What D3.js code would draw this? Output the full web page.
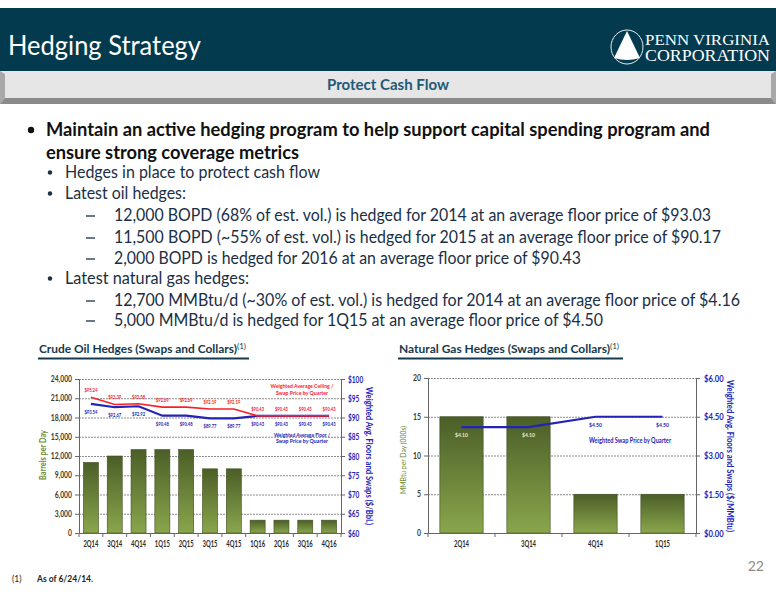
<!DOCTYPE html>
<html>
<head>
<meta charset="utf-8">
<script src="https://cdn.jsdelivr.net/npm/d3@7"></script>
<style>
body{margin:0;background:#fff;}
svg{display:block;}
text{font-family:Lato,"Open Sans",sans-serif;}
</style>
</head>
<body>
<svg id="chart" width="776" height="600"></svg>
<script>
// ---------- data ----------
const oilQuarters = ["2Q14","3Q14","4Q14","1Q15","2Q15","3Q15","4Q15","1Q16","2Q16","3Q16","4Q16"];
const oilVolumes = [11000,12000,13000,13000,13000,10000,10000,2000,2000,2000,2000];
const oilCeiling = [95.24,93.39,93.58,92.69,92.69,92.19,92.19,90.43,90.43,90.43,90.43];
const oilFloor = [93.54,92.67,92.92,90.48,90.48,89.77,89.77,90.43,90.43,90.43,90.43];
const oilVolumeTicks = [0,3000,6000,9000,12000,15000,18000,21000,24000];
const oilPriceTicks = [60,65,70,75,80,85,90,95,100];

const gasQuarters = ["2Q14","3Q14","4Q14","1Q15"];
const gasVolumes = [15,15,5,5];
const gasSwap = [4.10,4.10,4.50,4.50];
const gasVolumeTicks = [0,5,10,15,20];
const gasPriceTicks = [0,1.5,3,4.5,6];

const bodyLines = [
  {lvl:0, text:"Maintain an active hedging program to help support capital spending program and", bullet:true},
  {lvl:0, text:"ensure strong coverage metrics", bullet:false},
  {lvl:1, text:"Hedges in place to protect cash flow"},
  {lvl:1, text:"Latest oil hedges:"},
  {lvl:2, text:"12,000 BOPD (68% of est. vol.) is hedged for 2014 at an average floor price of $93.03"},
  {lvl:2, text:"11,500 BOPD (~55% of est. vol.) is hedged for 2015 at an average floor price of $90.17"},
  {lvl:2, text:"2,000 BOPD is hedged for 2016 at an average floor price of $90.43"},
  {lvl:1, text:"Latest natural gas hedges:"},
  {lvl:2, text:"12,700 MMBtu/d (~30% of est. vol.) is hedged for 2014 at an average floor price of $4.16"},
  {lvl:2, text:"5,000 MMBtu/d is hedged for 1Q15 at an average floor price of $4.50"}
];
const bodyLineY = [136,159,178,199,221,243,264,284,306,326];
const bodyLineEnd = [710,299,320,186,711,721,581,249,740,603];

// ---------- setup ----------
const svg = d3.select("#chart");
const BLUE = "#2323b5", RED = "#f5222a", OLIVE = "#6f8a35", TEAL = "#163a4c";

const defs = svg.append("defs");
const grad = defs.append("linearGradient").attr("id","barGrad").attr("x1",0).attr("y1",0).attr("x2",0).attr("y2",1);
grad.append("stop").attr("offset","0%").attr("stop-color","#4b5e27");
grad.append("stop").attr("offset","100%").attr("stop-color","#8aa64c");

// squeeze a text node to a width proportional to its character count
function squeeze(sel, perChar){
  sel.each(function(){
    const s = this.textContent;
    let w = 0;
    for(const ch of s){ w += (ch===","||ch===".") ? perChar*0.45 : perChar; }
    d3.select(this).attr("textLength",w).attr("lengthAdjust","spacingAndGlyphs");
  });
}

// ---------- header ----------
svg.append("rect").attr("x",0).attr("y",8).attr("width",776).attr("height",63).attr("fill","#033a4e");
svg.append("text").attr("x",8).attr("y",55).attr("fill","#fff").attr("font-size",27)
  .attr("textLength",193).attr("lengthAdjust","spacingAndGlyphs").text("Hedging Strategy");

// logo
const logo = svg.append("g");
logo.append("ellipse").attr("cx",627).attr("cy",47).attr("rx",16).attr("ry",17).attr("fill","none").attr("stroke","#e8eef0").attr("stroke-width",1);
logo.append("path").attr("d","M627,31 L640,58 Q627,62 614,58 Z").attr("fill","#fff");
logo.append("text").attr("x",645).attr("y",45).attr("fill","#fff").attr("font-size",15)
  .style("font-family","'Liberation Serif','DejaVu Serif',serif").attr("textLength",125).attr("lengthAdjust","spacingAndGlyphs").text("PENN VIRGINIA");
logo.append("text").attr("x",645).attr("y",61).attr("fill","#fff").attr("font-size",16)
  .style("font-family","'Liberation Serif','DejaVu Serif',serif").attr("textLength",125).attr("lengthAdjust","spacingAndGlyphs").text("CORPORATION");

// gray band
svg.append("rect").attr("x",0).attr("y",71).attr("width",776).attr("height",33).attr("fill","#e6e6e6");
svg.append("path").attr("d","M0,71 L5,74 L5,98 L0,104 Z").attr("fill","#a8a8a8");
svg.append("path").attr("d","M776,71 L771,74 L771,98 L776,104 Z").attr("fill","#a8a8a8");
svg.append("path").attr("d","M0,104 L5,98 L771,98 L776,104 Z").attr("fill","#8a8a8a");
svg.append("text").attr("x",388).attr("y",90).attr("text-anchor","middle").attr("fill","#1d5a78")
  .attr("font-size",15).attr("font-weight","bold").attr("textLength",122).attr("lengthAdjust","spacingAndGlyphs").text("Protect Cash Flow");

// ---------- body text ----------
bodyLines.forEach((d,i)=>{
  const y = bodyLineY[i];
  let tx;
  if(d.lvl===0){
    tx = 46;
    if(d.bullet) svg.append("circle").attr("cx",31).attr("cy",y-6).attr("r",3.2).attr("fill","#111");
    svg.append("text").attr("x",tx).attr("y",y).attr("fill","#111").attr("font-size",18.5).attr("font-weight","bold")
      .attr("textLength",bodyLineEnd[i]-tx).attr("lengthAdjust","spacingAndGlyphs").text(d.text);
  } else if(d.lvl===1){
    tx = 65;
    svg.append("circle").attr("cx",50).attr("cy",y-5.5).attr("r",2.2).attr("fill","#1a2f45");
    svg.append("text").attr("x",tx).attr("y",y).attr("fill","#1a2f45").attr("font-size",16.5)
      .attr("textLength",bodyLineEnd[i]-tx).attr("lengthAdjust","spacingAndGlyphs").text(d.text);
  } else {
    tx = 114;
    svg.append("line").attr("x1",86).attr("x2",95).attr("y1",y-5).attr("y2",y-5).attr("stroke","#1a2f45").attr("stroke-width",1.3);
    svg.append("text").attr("x",tx).attr("y",y).attr("fill","#1a2f45").attr("font-size",16.5)
      .attr("textLength",bodyLineEnd[i]-tx).attr("lengthAdjust","spacingAndGlyphs").text(d.text);
  }
});

// ---------- chart title helper ----------
function chartTitle(x, y, w, text, ulX1, ulX2){
  const t = svg.append("text").attr("x",x).attr("y",y).attr("fill",TEAL).attr("font-size",11.5).attr("font-weight","bold");
  t.append("tspan").attr("textLength",w).attr("lengthAdjust","spacingAndGlyphs").text(text);
  t.append("tspan").attr("dy",-4).attr("font-size",8).attr("font-weight","normal").text("(1)");
  svg.append("line").attr("x1",ulX1).attr("x2",ulX2).attr("y1",358.5).attr("y2",358.5).attr("stroke",TEAL).attr("stroke-width",2);
}
chartTitle(39,353,198,"Crude Oil Hedges (Swaps and Collars)",38,249);
chartTitle(399,353,211,"Natural Gas Hedges (Swaps and Collars)",398,623);

// ---------- generic dual-axis chart ----------
function drawChart(cfg){
  const g = svg.append("g");
  const x = d3.scaleBand().domain(cfg.cats).range([cfg.x0,cfg.x1]).paddingInner(cfg.padIn).paddingOuter(cfg.padIn/2);
  const y = d3.scaleLinear().domain(cfg.yDom).range([cfg.yB,cfg.yT]);
  const y2 = d3.scaleLinear().domain(cfg.y2Dom).range([cfg.yB,cfg.yT]);

  // gridlines
  g.append("g").selectAll("line").data(cfg.yTicks.filter(d=>d>cfg.yDom[0])).join("line")
    .attr("x1",cfg.x0).attr("x2",cfg.x1).attr("y1",d=>y(d)+0.5).attr("y2",d=>y(d)+0.5)
    .attr("stroke","#8c8c8c").attr("stroke-width",1).attr("stroke-dasharray","2,1");

  // bars
  g.append("g").selectAll("rect").data(cfg.vols).join("rect")
    .attr("x",(d,i)=>x(cfg.cats[i])).attr("width",x.bandwidth())
    .attr("y",d=>y(d)).attr("height",d=>y(cfg.yDom[0])-y(d))
    .attr("fill","url(#barGrad)").attr("stroke","#3d4d1f").attr("stroke-width",0.6);

  // axes
  const left = g.append("g").attr("transform",`translate(${cfg.x0},0)`)
    .call(d3.axisLeft(y).tickValues(cfg.yTicks).tickFormat(cfg.yFmt).tickSize(4).tickPadding(3));
  left.select(".domain").attr("stroke","#666");
  left.selectAll(".tick line").attr("stroke","#666");
  left.selectAll("text").attr("fill","#3c3c2e").attr("font-size",8.5).attr("font-weight","bold").style("font-family","Lato,sans-serif")
    .call(squeeze, cfg.yChar);

  const right = g.append("g").attr("transform",`translate(${cfg.x1},0)`)
    .call(d3.axisRight(y2).tickValues(cfg.y2Ticks).tickFormat(cfg.y2Fmt).tickSize(4).tickPadding(cfg.y2Pad));
  right.select(".domain").attr("stroke","#666");
  right.selectAll(".tick line").attr("stroke","#666");
  right.selectAll("text").attr("fill",BLUE).attr("font-size",9.5).attr("font-weight","bold").style("font-family","Lato,sans-serif")
    .call(squeeze, cfg.y2Char);

  const bottom = g.append("g").attr("transform",`translate(0,${cfg.yB})`)
    .call(d3.axisBottom(x).tickSize(0).tickPadding(cfg.xPad));
  bottom.select(".domain").attr("stroke","#666");
  bottom.selectAll("text").attr("fill","#2b2b2b").attr("font-size",8.5).attr("font-weight","bold").style("font-family","Lato,sans-serif")
    .attr("textLength",15).attr("lengthAdjust","spacingAndGlyphs");
  // category boundary ticks
  g.append("g").selectAll("line").data(d3.range(cfg.cats.length+1)).join("line")
    .attr("x1",i=>cfg.x0+i*x.step()).attr("x2",i=>cfg.x0+i*x.step())
    .attr("y1",cfg.yB).attr("y2",cfg.yB+4).attr("stroke","#666");

  // axis titles
  g.append("text").attr("transform",`translate(${cfg.lTitleX},${cfg.lTitleY}) rotate(-90)`)
    .attr("text-anchor","middle").attr("fill",OLIVE).attr("font-size",cfg.lTitleFont).attr("font-weight",cfg.lTitleWeight)
    .attr("textLength",cfg.lTitleLen).attr("lengthAdjust","spacingAndGlyphs").text(cfg.lTitle);
  g.append("text").attr("transform",`translate(${cfg.rTitleX},${cfg.rTitleY}) rotate(90)`)
    .attr("text-anchor","middle").attr("fill",BLUE).attr("font-size",9.5).attr("font-weight","bold")
    .attr("textLength",cfg.rTitleLen).attr("lengthAdjust","spacingAndGlyphs").text(cfg.rTitle);

  return {g,x,y,y2};
}

// ---------- oil chart ----------
const oil = drawChart({
  cats:oilQuarters, vols:oilVolumes, x0:79, x1:341, yT:379, yB:533, padIn:0.37,
  yDom:[0,24000], y2Dom:[60,100], yTicks:oilVolumeTicks, y2Ticks:oilPriceTicks,
  yFmt:d3.format(","), y2Fmt:d=>"$"+d, yChar:3.9, y2Char:3.8, y2Pad:3, xPad:8,
  lTitle:"Barrels per Day", lTitleX:46, lTitleY:455, lTitleLen:50, lTitleFont:8.5, lTitleWeight:"bold",
  rTitle:"Weighted Avg. Floors and Swaps ($/Bbl.)", rTitleX:366, rTitleY:456, rTitleLen:138
});
const oilLine = d3.line().x((d,i)=>oil.x(oilQuarters[i])+oil.x.bandwidth()/2).y(d=>oil.y2(d));
oil.g.append("path").datum(oilFloor).attr("d",oilLine).attr("fill","none").attr("stroke",BLUE).attr("stroke-width",2.2);
oil.g.append("path").datum(oilCeiling).attr("d",oilLine).attr("fill","none").attr("stroke",RED).attr("stroke-width",1.6);
const pf = d3.format("$.2f");
oil.g.append("g").selectAll("text").data(oilCeiling).join("text")
  .attr("x",(d,i)=>oil.x(oilQuarters[i])+oil.x.bandwidth()/2).attr("y",d=>oil.y2(d)-5)
  .attr("text-anchor","middle").attr("fill",RED).attr("font-size",6).attr("font-weight","bold")
  .attr("textLength",13).attr("lengthAdjust","spacingAndGlyphs").text(pf);
oil.g.append("g").selectAll("text").data(oilFloor).join("text")
  .attr("x",(d,i)=>oil.x(oilQuarters[i])+oil.x.bandwidth()/2).attr("y",d=>oil.y2(d)+10)
  .attr("text-anchor","middle").attr("fill",BLUE).attr("font-size",6).attr("font-weight","bold")
  .attr("textLength",13).attr("lengthAdjust","spacingAndGlyphs").text(pf);
[["Weighted Average Ceiling /",387.5,RED,63],["Swap Price by Quarter",395,RED,52],
 ["Weighted Average Floor /",436.5,BLUE,56],["Swap Price by Quarter",443,BLUE,52]].forEach(([t,yy,c,w])=>{
  oil.g.append("text").attr("x",302).attr("y",yy).attr("text-anchor","middle").attr("fill",c)
    .attr("font-size",6).attr("font-weight","bold").attr("textLength",w).attr("lengthAdjust","spacingAndGlyphs").text(t);
});

// ---------- gas chart ----------
const gas = drawChart({
  cats:gasQuarters, vols:gasVolumes, x0:428, x1:696, yT:378, yB:533, padIn:0.354,
  yDom:[0,20], y2Dom:[0,6], yTicks:gasVolumeTicks, y2Ticks:gasPriceTicks,
  yFmt:d3.format("d"), y2Fmt:d3.format("$.2f"), yChar:4, y2Char:4.4, y2Pad:4, xPad:8,
  lTitle:"MMBtu per Day (000s)", lTitleX:406, lTitleY:460, lTitleLen:68, lTitleFont:8, lTitleWeight:"normal",
  rTitle:"Weighted Avg. Floors and Swaps ($/MMBtu)", rTitleX:727, rTitleY:456, rTitleLen:152
});
const gasLine = d3.line().x((d,i)=>gas.x(gasQuarters[i])+gas.x.bandwidth()/2).y(d=>gas.y2(d));
gas.g.append("path").datum(gasSwap).attr("d",gasLine).attr("fill","none").attr("stroke",BLUE).attr("stroke-width",2.2);
gas.g.append("g").selectAll("text").data(gasSwap).join("text")
  .attr("x",(d,i)=>gas.x(gasQuarters[i])+gas.x.bandwidth()/2).attr("y",d=>gas.y2(d)+10)
  .attr("text-anchor","middle").attr("fill",(d,i)=>gas.y2(d)+4>gas.y(gasVolumes[i]) ? "#e4ead0" : BLUE)
  .attr("font-size",6).attr("font-weight","bold").attr("textLength",13).attr("lengthAdjust","spacingAndGlyphs").text(pf);
gas.g.append("text").attr("x",630).attr("y",443).attr("text-anchor","middle").attr("fill",BLUE)
  .attr("font-size",6.5).attr("font-weight","bold").attr("textLength",82).attr("lengthAdjust","spacingAndGlyphs").text("Weighted Swap Price by Quarter");

// ---------- footer ----------
svg.append("text").attr("x",764).attr("y",571).attr("text-anchor","end").attr("fill","#8a8a8a").attr("font-size",14).text("22");
svg.append("text").attr("x",12).attr("y",582).attr("fill","#222").attr("font-size",8.5).text("(1)");
svg.append("text").attr("x",37).attr("y",582).attr("fill","#222").attr("font-size",8.5).attr("font-weight","bold").text("As of 6/24/14.");
</script>
</body>
</html>
